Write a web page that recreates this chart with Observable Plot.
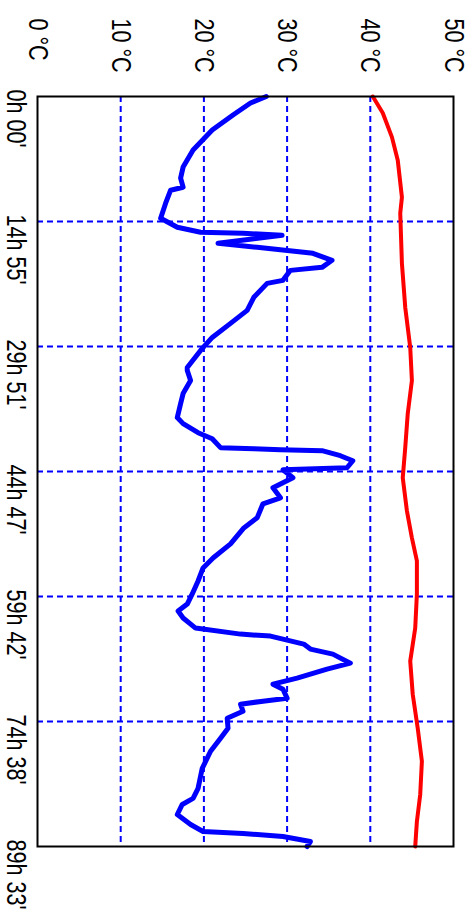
<!DOCTYPE html>
<html>
<head>
<meta charset="utf-8">
<script src="https://cdn.jsdelivr.net/npm/d3@7"></script>
<script src="https://cdn.jsdelivr.net/npm/@observablehq/plot@0.6"></script>
<style>
  html, body { margin: 0; padding: 0; background: #fff; }
  #chart svg { display: block; }
</style>
</head>
<body>
<div id="chart"></div>
<script>
// Temperature tick values and labels
const tempTicks = [0, 10, 20, 30, 40, 50];
const tempLabels = ["0 °C", "10 °C", "20 °C", "30 °C", "40 °C", "50 °C"];

// Time ticks (hours) and labels
const totalHours = 89.55;
const timeTicks = [0, 14.925, 29.85, 44.775, 59.7, 74.625, 89.55];
const timeLabels = ["0h 00'", "14h 55'", "29h 51'", "44h 47'", "59h 42'", "74h 38'", "89h 33'"];

// Blue series (hours, °C)
const blueHours = [0, 0.78, 2.21, 4.01, 6.40, 8.43, 9.75, 10.83, 11.19, 12.74, 14.54, 15.61, 16.21, 16.33, 16.57, 17.53, 18.00, 18.72, 19.56, 20.40, 20.76, 21.95, 22.31, 23.98, 25.54, 27.09, 28.77, 30.32, 32.36, 32.72, 33.92, 35.47, 36.67, 38.34, 39.06, 40.14, 40.86, 41.93, 42.05, 42.17, 42.29, 42.89, 43.49, 44.33, 44.57, 45.52, 46.72, 47.92, 48.63, 50.31, 51.51, 53.42, 55.10, 56.29, 57.85, 59.40, 60.60, 61.44, 62.27, 63.47, 64.19, 64.43, 65.38, 65.98, 66.58, 67.66, 68.37, 69.45, 70.17, 70.77, 71.84, 72.20, 72.56, 73.40, 74.24, 75.43, 76.63, 78.18, 80.22, 82.61, 83.81, 84.53, 85.73, 86.92, 87.76, 88.00, 88.36, 88.96, 89.55];
const blueTemps = [27.5, 25.6, 23.5, 21.0, 18.7, 17.5, 17.2, 17.5, 16.0, 15.4, 14.8, 16.8, 19.6, 24.7, 29.4, 21.7, 26.4, 33.1, 35.4, 34.2, 30.4, 29.5, 27.6, 26.0, 25.2, 23.2, 21.0, 19.6, 18.0, 18.0, 18.4, 17.5, 17.2, 16.8, 17.5, 19.3, 21.0, 22.0, 26.0, 29.2, 34.2, 36.4, 37.9, 37.2, 29.5, 30.7, 28.3, 29.2, 27.1, 26.4, 24.8, 23.2, 21.1, 19.9, 19.3, 18.6, 18.0, 16.9, 17.5, 19.0, 24.4, 28.0, 32.0, 32.8, 35.5, 37.6, 34.8, 31.2, 28.3, 29.5, 30.0, 27.1, 24.4, 24.7, 22.8, 22.9, 22.0, 20.8, 19.8, 19.3, 18.7, 17.4, 16.8, 18.4, 19.9, 24.7, 29.5, 32.8, 32.4];

// Red series (hours, °C)
const redHours = [0, 1.97, 4.85, 7.60, 12.02, 13.94, 19.92, 25.18, 29.97, 33.92, 37.87, 41.93, 45.52, 49.47, 52.70, 55.45, 59.40, 63.47, 67.42, 71.37, 75.43, 79.38, 83.33, 86.56, 89.55];
const redTemps = [40.3, 41.5, 42.6, 43.3, 43.8, 43.6, 43.8, 44.2, 44.8, 45.0, 44.5, 44.2, 43.9, 44.4, 45.0, 45.6, 45.6, 45.4, 44.8, 45.1, 45.7, 46.2, 46.0, 45.6, 45.4];

const blue = blueHours.map((h, i) => ({h, t: blueTemps[i]}));
const red = redHours.map((h, i) => ({h, t: redTemps[i]}));
const tempTickData = tempTicks.map((v, i) => ({v, label: tempLabels[i]}));
const timeTickData = timeTicks.map((v, i) => ({v, label: timeLabels[i]}));

const font = "'Liberation Sans', Arial, sans-serif";

const chart = Plot.plot({
  width: 476,
  height: 919,
  marginTop: 96,
  marginRight: 23,
  marginBottom: 73,
  marginLeft: 37,
  style: {background: "#fff", fontFamily: font},
  x: {domain: [0, 50], axis: null},
  y: {domain: [0, totalHours], reverse: true, axis: null},
  marks: [
    Plot.ruleX(tempTicks.slice(1, -1), {stroke: "#0000ff", strokeWidth: 2, strokeDasharray: "6,4"}),
    Plot.ruleY(timeTicks.slice(1, -1), {stroke: "#0000ff", strokeWidth: 2, strokeDasharray: "6,4"}),
    Plot.line(red, {x: "t", y: "h", stroke: "#ff0000", strokeWidth: 4}),
    Plot.line(blue, {x: "t", y: "h", stroke: "#0000ff", strokeWidth: 5}),
    Plot.frame({stroke: "#000", strokeWidth: 2}),
    Plot.text(tempTickData, {
      x: "v", text: "label", frameAnchor: "top", dy: -78,
      rotate: 90, textAnchor: "start", lineAnchor: "middle",
      fontSize: 28, fill: "#000", className: "narrow"
    }),
    Plot.text(timeTickData, {
      y: "v", text: "label", frameAnchor: "left", dx: -22, dy: -7,
      rotate: 90, textAnchor: "start", lineAnchor: "middle",
      fontSize: 28, fill: "#000", className: "narrow"
    })
  ]
});
// Compress the rotated labels along their reading direction to mimic the narrow lettering
d3.select(chart).selectAll("g.narrow text").each(function() {
  const tr = this.getAttribute("transform") || "";
  this.setAttribute("transform", tr + " scale(0.77,1)");
});
document.getElementById("chart").appendChild(chart);
</script>
</body>
</html>
